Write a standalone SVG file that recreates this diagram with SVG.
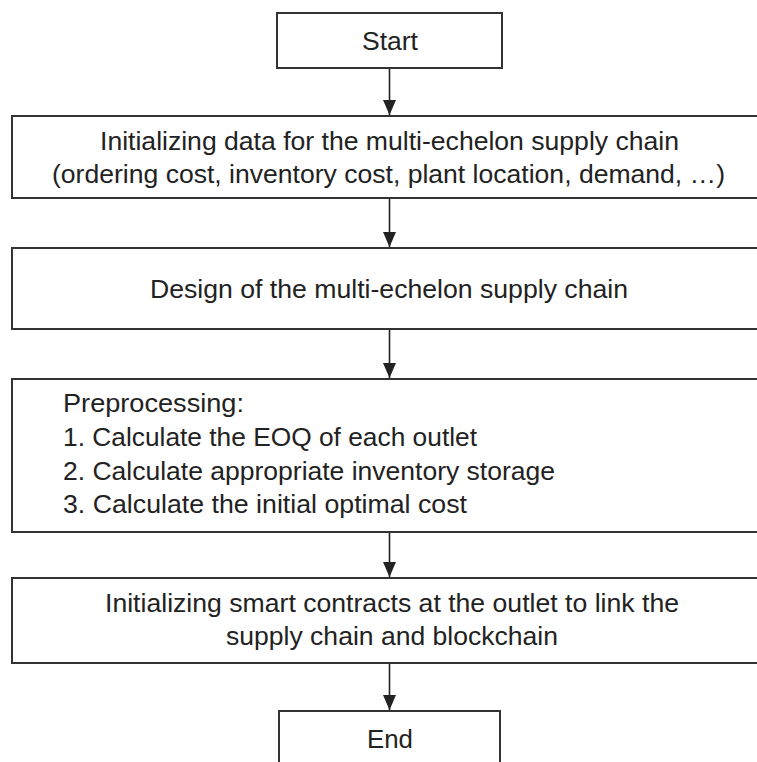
<svg xmlns="http://www.w3.org/2000/svg" width="757" height="762" viewBox="0 0 757 762">
<style>
.box{fill:#fff;stroke:#333;stroke-width:2}
.t{font-family:"Liberation Sans",Arial,sans-serif;font-size:26px;fill:#222}
.c{text-anchor:middle}
.edge{stroke:#222;stroke-width:1.6;fill:none}
</style>
<defs>
<marker id="ah" markerWidth="15" markerHeight="13" refX="15" refY="6.5" orient="auto" markerUnits="userSpaceOnUse" viewBox="0 0 15 13">
<path d="M0,0 L15,6.5 L0,13 Z" fill="#222"/>
</marker>
</defs>
<rect width="757" height="762" fill="#fff"/>
<g id="connectors">
<line class="edge" x1="389.5" y1="69" x2="389.5" y2="115" marker-end="url(#ah)"/>
<line class="edge" x1="389.5" y1="199" x2="389.5" y2="247" marker-end="url(#ah)"/>
<line class="edge" x1="389.5" y1="330" x2="389.5" y2="378" marker-end="url(#ah)"/>
<line class="edge" x1="389.5" y1="533" x2="389.5" y2="577" marker-end="url(#ah)"/>
<line class="edge" x1="389.5" y1="664" x2="389.5" y2="710" marker-end="url(#ah)"/>
</g>
<g id="start">
<rect class="box" x="277" y="13" width="225" height="55"/>
<text class="t c" x="390" y="50" textLength="56" lengthAdjust="spacingAndGlyphs">Start</text>
</g>
<g id="init-data">
<rect class="box" x="12" y="116" width="760" height="82"/>
<text class="t c" x="389.5" y="150" textLength="579" lengthAdjust="spacingAndGlyphs">Initializing  data for the multi-echelon supply chain</text>
<text class="t c" x="388.5" y="183" textLength="673" lengthAdjust="spacingAndGlyphs">(ordering cost, inventory cost, plant location, demand, …)</text>
</g>
<g id="design">
<rect class="box" x="12" y="248" width="760" height="81"/>
<text class="t c" x="389" y="298" textLength="478" lengthAdjust="spacingAndGlyphs">Design of the multi-echelon supply chain</text>
</g>
<g id="preprocessing">
<rect class="box" x="12" y="379" width="760" height="153"/>
<text class="t" x="63" y="412" textLength="181" lengthAdjust="spacingAndGlyphs">Preprocessing:</text>
<text class="t" x="63" y="446" textLength="414" lengthAdjust="spacingAndGlyphs">1. Calculate the EOQ of each outlet</text>
<text class="t" x="63" y="480" textLength="492" lengthAdjust="spacingAndGlyphs">2. Calculate appropriate inventory storage</text>
<text class="t" x="63" y="513" textLength="404" lengthAdjust="spacingAndGlyphs">3. Calculate the initial optimal cost</text>
</g>
<g id="smart-contracts">
<rect class="box" x="12" y="578" width="760" height="85"/>
<text class="t c" x="392" y="612" textLength="574" lengthAdjust="spacingAndGlyphs">Initializing  smart contracts at the outlet to link the</text>
<text class="t c" x="392" y="645" textLength="332" lengthAdjust="spacingAndGlyphs">supply chain and blockchain</text>
</g>
<g id="end">
<rect class="box" x="279" y="711" width="221" height="70"/>
<text class="t c" x="390" y="748" textLength="46" lengthAdjust="spacingAndGlyphs">End</text>
</g>
</svg>
